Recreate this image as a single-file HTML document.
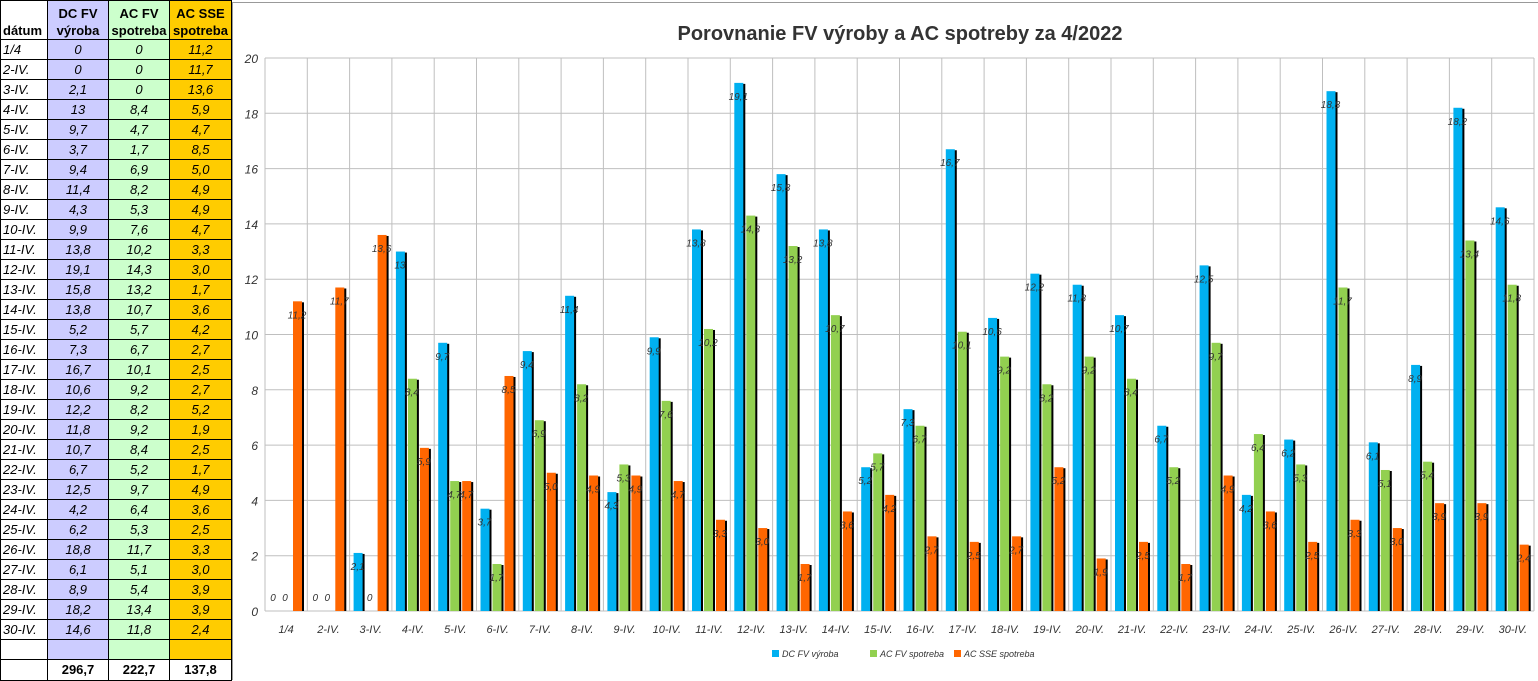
<!DOCTYPE html><html><head><meta charset="utf-8"><style>
body{margin:0;width:1538px;height:680px;overflow:hidden;background:#fff;font-family:"Liberation Sans",sans-serif;position:relative}
table{position:absolute;left:0;top:0;border-collapse:collapse;font-size:13px}
td{border:1px solid #000;height:19px;padding:0 2px;font-style:italic;text-align:center;line-height:18px}
td.d{text-align:left;width:42px}
td.a{background:#ccccff;width:56px}td.b{background:#ccffcc;width:56px}td.c{background:#ffcc00;width:57px}
tr.h td{font-style:normal;font-weight:bold;height:38px;line-height:17px;vertical-align:bottom}
tr.t td{font-style:normal;font-weight:bold;height:20px}
svg{position:absolute;left:0;top:0}
</style></head><body>
<table id="tb"><tr class="h"><td class="d" style="background:#fff">dátum</td><td class="a">DC FV<br>výroba</td><td class="b">AC FV<br>spotreba</td><td class="c">AC SSE<br>spotreba</td></tr></table>
<svg id="s" width="1538" height="680"></svg>
<script>
var D=[[0,0,11.2],[0,0,11.7],[2.1,0,13.6],[13,8.4,5.9],[9.7,4.7,4.7],[3.7,1.7,8.5],[9.4,6.9,5.0],[11.4,8.2,4.9],[4.3,5.3,4.9],[9.9,7.6,4.7],[13.8,10.2,3.3],[19.1,14.3,3.0],[15.8,13.2,1.7],[13.8,10.7,3.6],[5.2,5.7,4.2],[7.3,6.7,2.7],[16.7,10.1,2.5],[10.6,9.2,2.7],[12.2,8.2,5.2],[11.8,9.2,1.9],[10.7,8.4,2.5],[6.7,5.2,1.7],[12.5,9.7,4.9],[4.2,6.4,3.6],[6.2,5.3,2.5],[18.8,11.7,3.3],[6.1,5.1,3.0],[8.9,5.4,3.9],[18.2,13.4,3.9],[14.6,11.8,2.4]];
function f(v,d){return d?v.toFixed(1).replace('.',','):String(v).replace('.',',')}
function L(i){return i==0?'1/4':(i+1)+'-IV.'}
var h='';
D.forEach(function(r,i){h+='<tr><td class="d">'+L(i)+'</td><td class="a">'+f(r[0])+'</td><td class="b">'+f(r[1])+'</td><td class="c">'+f(r[2],1)+'</td></tr>'});
h+='<tr><td class="d"></td><td class="a"></td><td class="b"></td><td class="c"></td></tr><tr class="t"><td class="d"></td><td>296,7</td><td>222,7</td><td>137,8</td></tr>';
document.getElementById('tb').insertAdjacentHTML('beforeend',h);
var s='<rect x="232.5" y="2.5" width="1310" height="700" fill="#fff" stroke="#999"/>';
s+='<text x="900" y="40" text-anchor="middle" font-size="20" font-weight="bold" fill="#333">Porovnanie FV výroby a AC spotreby za 4/2022</text>';
var x0=265,cw=42.3,y0=611,k=27.65;
for(var g=0;g<=20;g+=2){var y=y0-g*k;s+='<line x1="265" x2="1534" y1="'+y+'" y2="'+y+'" stroke="#bfbfbf"/><text x="258" y="'+(y+5)+'" text-anchor="end" font-size="12" font-style="italic" fill="#333">'+g+'</text>';}
for(var i=0;i<=30;i++){var x=x0+i*cw;s+='<line x1="'+x+'" x2="'+x+'" y1="58" y2="611" stroke="#bfbfbf"/>';}
var C=['#00b0f0','#92d050','#ff6600'];
D.forEach(function(r,i){var cx=x0+i*cw;
 for(var j=0;j<3;j++){var bx=cx+4+j*12,v=r[j],hh=v*k,t=y0-hh;
  if(hh>0){s+='<rect x="'+(bx+2)+'" y="'+(t+1)+'" width="9" height="'+(hh-1)+'" fill="#000"/><rect x="'+bx+'" y="'+t+'" width="9" height="'+hh+'" fill="'+C[j]+'"/>';}
  s+='<text x="'+(bx+4)+'" y="'+(v>0?t+17:y0-10)+'" text-anchor="middle" font-size="10" font-style="italic" fill="#333">'+f(v,j==2)+'</text>';}
 s+='<text x="'+(cx+cw/2)+'" y="633" text-anchor="middle" font-size="11" font-style="italic" fill="#333">'+L(i)+'</text>';});
var lg=[[772,'DC FV výroba'],[870,'AC FV spotreba'],[954,'AC SSE spotreba']];
lg.forEach(function(l,j){s+='<rect x="'+l[0]+'" y="650" width="7" height="7" fill="'+C[j]+'"/><text x="'+(l[0]+10)+'" y="657" font-size="9" font-style="italic" fill="#333">'+l[1]+'</text>'});
document.getElementById('s').innerHTML=s;
</script>
</body></html>
